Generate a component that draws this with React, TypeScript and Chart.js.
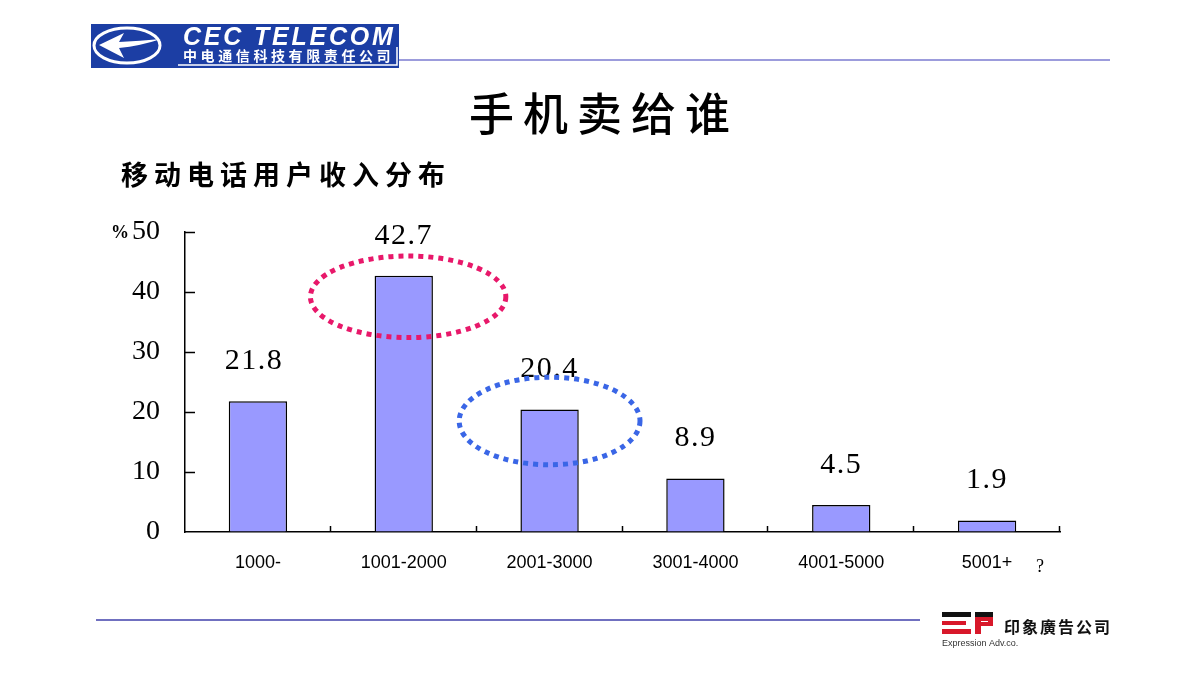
import React, { useEffect, useRef } from 'react';
import { Chart, registerables } from 'chart.js';

Chart.register(...registerables);

// ---- data ----
const categories = ['1000-', '1001-2000', '2001-3000', '3001-4000', '4001-5000', '5001+'];
const shares = [21.8, 42.7, 20.4, 8.9, 4.5, 1.9];
const valueLabels = ['21.8', '42.7', '20.4', '8.9', '4.5', '1.9'];
const yTicks = [0, 10, 20, 30, 40, 50];
const titleText = '手机卖给谁';
const subtitleText = '移动电话用户收入分布';
const unitText = '%';
const trailingMark = '?';
const logoTitle = 'CEC TELECOM';
const logoSub = '中电通信科技有限责任公司';
const footerName = '印象廣告公司';
const footerSub = 'Expression Adv.co.';

// highlight ellipses around bars (category index, centre value, half-width in categories, half-height in values)
const ringIndex = [1, 2];
const ringOffset = [0.03, 0.0];
const ringCenter = [39.2, 18.5];
const ringHalfWidth = [0.67, 0.62];
const ringHalfHeight = [6.8, 7.3];
const ringColor = ['#e8186a', '#3a66e6'];

const SERIF = '"Liberation Serif", "DejaVu Serif", serif';
const SANS = '"Liberation Sans", Arial, sans-serif';
const CJK = '"Noto Sans CJK SC", "Noto Sans", sans-serif';

const decorPlugin = {
  id: 'decor',
  afterDatasetsDraw(chart: any) {
    const ctx = chart.ctx;
    const xs = chart.scales.x;
    const ys = chart.scales.y;
    const area = chart.chartArea;
    const meta = chart.getDatasetMeta(0);
    ctx.save();

    // inward tick marks on y axis
    ctx.strokeStyle = '#000';
    ctx.lineWidth = 1.5;
    yTicks.forEach((v) => {
      if (v === 0) return;
      const y = Math.round(ys.getPixelForValue(v)) + 0.5;
      ctx.beginPath();
      ctx.moveTo(area.left, y);
      ctx.lineTo(area.left + 10, y);
      ctx.stroke();
    });
    // inward tick marks on x axis at category boundaries
    const catW = (area.right - area.left) / categories.length;
    for (let i = 1; i <= categories.length; i++) {
      const x = Math.round(area.left + catW * i) - 0.5;
      ctx.beginPath();
      ctx.moveTo(x, area.bottom);
      ctx.lineTo(x, area.bottom - 6);
      ctx.stroke();
    }

    // value labels
    ctx.fillStyle = '#000';
    ctx.font = `30px ${SERIF}`;
    ctx.textAlign = 'center';
    ctx.textBaseline = 'middle';
    (ctx as any).letterSpacing = '1.5px';
    meta.data.forEach((bar: any, i: number) => {
      ctx.fillText(valueLabels[i], bar.x + (i === 0 ? -4 : 0), bar.y - 40);
    });
    (ctx as any).letterSpacing = '0px';

    // dotted ellipses
    ringIndex.forEach((idx, k) => {
      const cx = xs.getPixelForValue(idx) + ringOffset[k] * catW;
      const cy = ys.getPixelForValue(ringCenter[k]);
      const rx = ringHalfWidth[k] * catW;
      const ry = Math.abs(ys.getPixelForValue(ringCenter[k] + ringHalfHeight[k]) - cy);
      ctx.beginPath();
      ctx.ellipse(cx, cy, rx, ry, 0, 0, Math.PI * 2);
      ctx.setLineDash([5, 5]);
      ctx.lineWidth = 5;
      ctx.strokeStyle = ringColor[k];
      ctx.stroke();
    });
    ctx.setLineDash([]);
    ctx.restore();
  },
  afterDraw(chart: any) {
    const ctx = chart.ctx;
    const area = chart.chartArea;
    ctx.save();

    // unit and trailing mark
    ctx.fillStyle = '#000';
    ctx.textBaseline = 'middle';
    ctx.textAlign = 'center';
    ctx.font = `bold 18px ${SERIF}`;
    ctx.fillText(unitText, 120, area.top + 1);
    ctx.font = `18px ${SERIF}`;
    ctx.fillText(trailingMark, 1040, 567);

    // title
    ctx.textAlign = 'left';
    ctx.font = `500 45px ${CJK}`;
    (ctx as any).letterSpacing = '9px';
    ctx.fillText(titleText, 469, 114);
    ctx.font = `bold 27px ${CJK}`;
    (ctx as any).letterSpacing = '6px';
    ctx.fillText(subtitleText, 121, 175);
    (ctx as any).letterSpacing = '0px';

    // header logo
    ctx.fillStyle = '#1c3ea4';
    ctx.fillRect(91, 24, 308, 44);
    ctx.strokeStyle = '#ffffff';
    ctx.lineWidth = 1.5;
    ctx.beginPath();
    ctx.moveTo(178, 65);
    ctx.lineTo(397, 65);
    ctx.lineTo(397, 47);
    ctx.stroke();
    ctx.lineWidth = 3;
    ctx.beginPath();
    ctx.ellipse(127, 45.5, 33, 17.5, 0, 0, Math.PI * 2);
    ctx.stroke();
    ctx.fillStyle = '#ffffff';
    ctx.beginPath();
    ctx.moveTo(99, 45);
    ctx.lineTo(124, 33);
    ctx.lineTo(119, 42);
    ctx.quadraticCurveTo(140, 41, 161, 39);
    ctx.quadraticCurveTo(140, 46, 119, 48);
    ctx.lineTo(124, 58);
    ctx.closePath();
    ctx.fill();

    ctx.font = `italic bold 25px ${SANS}`;
    (ctx as any).letterSpacing = '2.8px';
    ctx.textBaseline = 'alphabetic';
    ctx.fillText(logoTitle, 183, 45);
    ctx.font = `bold 14px ${CJK}`;
    (ctx as any).letterSpacing = '3.6px';
    ctx.fillText(logoSub, 183, 61);
    (ctx as any).letterSpacing = '0px';

    // header rule
    ctx.strokeStyle = '#9c9cdc';
    ctx.lineWidth = 2;
    ctx.beginPath();
    ctx.moveTo(399, 60);
    ctx.lineTo(1110, 60);
    ctx.stroke();

    // footer rule
    ctx.strokeStyle = '#7070c0';
    ctx.beginPath();
    ctx.moveTo(96, 620);
    ctx.lineTo(920, 620);
    ctx.stroke();

    // footer logo EP
    ctx.fillStyle = '#111';
    ctx.fillRect(942, 612, 29, 5);
    ctx.fillRect(975, 612, 18, 5);
    ctx.fillStyle = '#d8182a';
    ctx.fillRect(942, 621, 24, 4);
    ctx.fillRect(942, 629, 29, 5);
    ctx.fillRect(975, 617, 6, 17);
    ctx.fillRect(975, 617, 18, 4);
    ctx.fillRect(988, 617, 5, 9);
    ctx.fillRect(975, 622, 18, 4);
    ctx.fillStyle = '#111';
    ctx.font = `bold 16px ${CJK}`;
    (ctx as any).letterSpacing = '2px';
    ctx.textBaseline = 'middle';
    ctx.fillText(footerName, 1004, 627);
    (ctx as any).letterSpacing = '0px';
    ctx.font = `9px ${SANS}`;
    ctx.fillStyle = '#333';
    ctx.fillText(footerSub, 942, 644);

    ctx.restore();
  },
};

export default function App() {
  const ref = useRef<HTMLCanvasElement | null>(null);
  useEffect(() => {
    if (!ref.current) return;
    const chart = new Chart(ref.current, {
      type: 'bar',
      data: {
        labels: categories,
        datasets: [
          {
            data: shares,
            backgroundColor: '#9999ff',
            borderColor: '#000000',
            borderWidth: 1.5,
            barPercentage: 0.8,
            categoryPercentage: 0.5,
          },
        ],
      },
      options: {
        responsive: false,
        animation: false,
        devicePixelRatio: 1,
        layout: { padding: { left: 85, right: 140, top: 232, bottom: 100 } },
        plugins: { legend: { display: false }, tooltip: { enabled: false } },
        scales: {
          x: {
            grid: { display: true, drawOnChartArea: false, drawTicks: false },
            border: { display: true, color: '#000', width: 1.5 },
            ticks: { padding: 20, color: '#000', font: { family: SANS, size: 18 } },
            afterFit: (s: any) => {
              s.height = 48;
            },
          },
          y: {
            min: 0,
            max: 50,
            afterBuildTicks: (s: any) => {
              s.ticks = yTicks.map((v) => ({ value: v }));
            },
            grid: { display: true, drawOnChartArea: false, drawTicks: false },
            border: { display: true, color: '#000', width: 1.5 },
            ticks: { padding: 25, color: '#000', font: { family: SERIF, size: 28 } },
            afterFit: (s: any) => {
              s.width = 100;
            },
          },
        },
      } as any,
      plugins: [decorPlugin],
    });
    return () => chart.destroy();
  }, []);
  return (
    <div style={{ position: 'fixed', left: 0, top: 0, width: 1200, height: 680, background: '#fff' }}>
      <canvas ref={ref} width={1200} height={680} style={{ width: 1200, height: 680, display: 'block' }} />
    </div>
  );
}
